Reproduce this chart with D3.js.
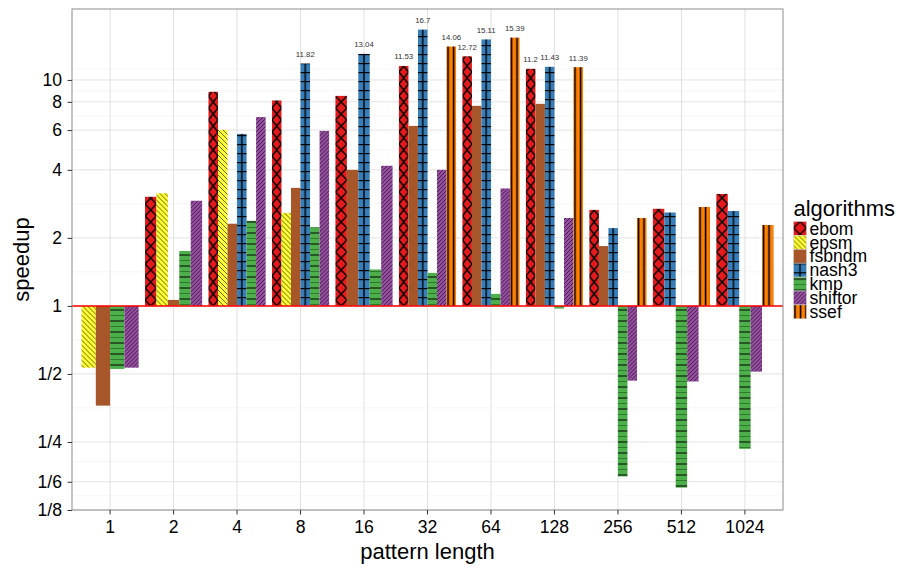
<!DOCTYPE html>
<html>
  <head>
    <meta charset="utf-8" />
    <script src="https://cdn.jsdelivr.net/npm/d3@7"></script>
    <style>
      body { margin: 0; background: #fff; }
      text { font-family: "Liberation Sans", Helvetica, Arial, sans-serif; }
    </style>
  </head>
  <body>
    <script type="text/javascript">
      // data (speedup, log2 scale); null = no bar
      const lengths = ["1", "2", "4", "8", "16", "32", "64", "128", "256", "512", "1024"];
      const algorithms = ["ebom", "epsm", "fsbndm", "nash3", "kmp", "shiftor", "ssef"];
      const ebom = [null, 3.04, 8.86, 8.11, 8.5, 11.53, 12.72, 11.2, 2.66, 2.69, 3.13];
      const epsm = [0.533, 3.15, 6.01, 2.58, null, null, null, null, null, null, null];
      const fsbndm = [0.362, 1.063, 2.31, 3.33, 4.0, 6.26, 7.68, 7.84, 1.84, null, null];
      const nash3 = [null, null, 5.77, 11.82, 13.04, 16.7, 15.11, 11.43, 2.21, 2.59, 2.63];
      const kmp = [0.526, 1.75, 2.38, 2.23, 1.45, 1.4, 1.13, 0.973, 0.176, 0.157, 0.233];
      const shiftor = [0.533, 2.92, 6.85, 5.95, 4.17, 4.0, 3.31, 2.45, 0.467, 0.463, 0.512];
      const ssef = [null, null, null, null, null, 14.06, 15.39, 11.39, 2.45, 2.74, 2.28];
      const yTicks = [1 / 8, 1 / 6, 1 / 4, 1 / 2, 1, 2, 4, 6, 8, 10];
      const yTickLabels = ["1/8", "1/6", "1/4", "1/2", "1", "2", "4", "6", "8", "10"];
      const labelOver = 11; // values above this get a number on top

      const series = { ebom, epsm, fsbndm, nash3, kmp, shiftor, ssef };
      const colors = {
        ebom: "#E41A1C", epsm: "#FFFF33", fsbndm: "#A65628", nash3: "#377EB8",
        kmp: "#4DAF4A", shiftor: "#984EA3", ssef: "#FF7F00"
      };

      const W = 901, H = 567;
      const panel = { left: 72, right: 783, top: 9, bottom: 510 };

      const svg = d3.select("body").append("svg")
        .attr("width", W).attr("height", H);
      const defs = svg.append("defs");

      const x = d3.scaleBand()
        .domain(lengths)
        .range([panel.left, panel.right])
        .paddingInner(0)
        .paddingOuter(0.1);

      const y = d3.scaleLog().base(2)
        .domain([1 / 8, 20.6])
        .range([panel.bottom, panel.top]);

      // pattern fills, some depend on bar width
      const made = {};
      function pattern(alg, w, key) {
        const id = "p-" + alg + "-" + String(w).replace(".", "_") + (key ? "k" : "");
        if (made[id]) return "url(#" + id + ")";
        made[id] = true;
        let pw = 10, ph = 10;
        if (alg == "ebom") { pw = w; ph = key ? w : 12; }
        if (alg == "epsm") { pw = 5; ph = 5; }
        if (alg == "nash3") { pw = w; ph = 9; }
        if (alg == "kmp") { pw = 10; ph = 11; }
        if (alg == "shiftor") { pw = 4; ph = 4; }
        if (alg == "ssef") { pw = 5.5; ph = 10; }
        const p = defs.append("pattern")
          .attr("id", id)
          .attr("patternUnits", "userSpaceOnUse")
          .attr("width", pw).attr("height", ph);
        p.append("rect").attr("width", pw).attr("height", ph).attr("fill", colors[alg]);
        const line = function (d, sw, col) {
          p.append("path").attr("d", d).attr("stroke", col || "#000")
            .attr("stroke-width", sw).attr("fill", "none");
        };
        if (alg == "ebom") {
          if (key) line("M" + pw / 2 + ",0L" + pw + "," + ph / 2 + "L" + pw / 2 + "," + ph + "L0," + ph / 2 + "Z", 1.3);
          else line("M0,0L" + pw + "," + ph + "M" + pw + ",0L0," + ph, 1.4);
        }
        if (alg == "epsm") line("M0,0L5,5M-1,4L1,6M4,-1L6,1", 0.6);
        if (alg == "nash3") {
          line("M0,0.6H" + pw, 1.2);
          line("M" + pw / 2 + ",0V" + ph, 1.4);
        }
        if (alg == "kmp") {
          line("M0,2H10", 1);
          line("M0,7.5H10", 1, "#2e7a2c");
        }
        if (alg == "shiftor") line("M0,4L4,0M-1,1L1,-1M3,5L5,3", 0.6);
        if (alg == "ssef") line("M1.5,0V10", 1.6);
        return "url(#" + id + ")";
      }

      // grid
      const grid = svg.append("g");
      const minor = [];
      for (let i = 0; i < yTicks.length - 1; i++) minor.push(Math.sqrt(yTicks[i] * yTicks[i + 1]));
      minor.push(10 * Math.sqrt(10 / 8));
      grid.selectAll(".minor").data(minor).enter().append("line")
        .attr("x1", panel.left).attr("x2", panel.right)
        .attr("y1", function (d) { return y(d); }).attr("y2", function (d) { return y(d); })
        .attr("stroke", "#f2f2f2").attr("stroke-width", 0.8);
      grid.selectAll(".major").data(yTicks).enter().append("line")
        .attr("x1", panel.left).attr("x2", panel.right)
        .attr("y1", function (d) { return y(d); }).attr("y2", function (d) { return y(d); })
        .attr("stroke", "#e3e3e3").attr("stroke-width", 1);
      grid.selectAll(".vert").data(lengths).enter().append("line")
        .attr("x1", function (d) { return x(d) + x.bandwidth() / 2; })
        .attr("x2", function (d) { return x(d) + x.bandwidth() / 2; })
        .attr("y1", panel.top).attr("y2", panel.bottom)
        .attr("stroke", "#e0e0e0").attr("stroke-width", 1);

      // dodge bars within each length, only among present algorithms
      const bars = [];
      lengths.forEach(function (len, i) {
        const present = algorithms.filter(function (a) { return series[a][i] != null; });
        const dodge = x.bandwidth() * 0.9;
        const bw = dodge / present.length;
        const x0 = x(len) + x.bandwidth() / 2 - dodge / 2;
        present.forEach(function (a, j) {
          bars.push({ alg: a, value: series[a][i], x: x0 + j * bw, w: bw });
        });
      });

      const barG = svg.append("g").selectAll("g").data(bars).enter().append("g")
        .attr("transform", function (d) { return "translate(" + d.x + ",0)"; });
      barG.append("rect")
        .attr("x", 0)
        .attr("width", function (d) { return d.w; })
        .attr("y", function (d) { return Math.min(y(d.value), y(1)); })
        .attr("height", function (d) { return Math.abs(y(d.value) - y(1)); })
        .attr("fill", function (d) { return pattern(d.alg, +d.w.toFixed(2)); });

      // reference line at speedup 1
      svg.append("line")
        .attr("x1", panel.left).attr("x2", panel.right)
        .attr("y1", y(1)).attr("y2", y(1))
        .attr("stroke", "#ff0000").attr("stroke-width", 1.5);

      // value labels on the big bars
      svg.append("g").selectAll("text")
        .data(bars.filter(function (d) { return d.value > labelOver; }))
        .enter().append("text")
        .attr("x", function (d) { return d.x + d.w / 2; })
        .attr("y", function (d) { return y(d.value) - 6.5; })
        .attr("text-anchor", "middle")
        .attr("font-size", "7.8px")
        .attr("fill", "#333")
        .text(function (d) { return String(d.value); });

      // panel border
      svg.append("rect")
        .attr("x", panel.left).attr("y", panel.top)
        .attr("width", panel.right - panel.left).attr("height", panel.bottom - panel.top)
        .attr("fill", "none").attr("stroke", "#8c8c8c").attr("stroke-width", 1);

      // axes
      const xAxis = svg.append("g")
        .attr("transform", "translate(0," + panel.bottom + ")")
        .call(d3.axisBottom(x).tickSize(4.5).tickPadding(6));
      const yAxis = svg.append("g")
        .attr("transform", "translate(" + panel.left + ",0)")
        .call(d3.axisLeft(y).tickValues(yTicks).tickSize(4.5).tickPadding(5.5)
          .tickFormat(function (d, i) { return yTickLabels[i]; }));
      [xAxis, yAxis].forEach(function (a) {
        a.select(".domain").remove();
        a.selectAll("line").attr("stroke", "#333");
        a.selectAll("text").attr("font-size", "17.6px").attr("fill", "#000")
          .attr("font-family", "'Liberation Sans', Helvetica, Arial, sans-serif");
      });

      svg.append("text")
        .attr("x", (panel.left + panel.right) / 2).attr("y", 559)
        .attr("text-anchor", "middle").attr("font-size", "22px")
        .text("pattern length");
      svg.append("text")
        .attr("transform", "translate(28.5," + (panel.top + panel.bottom) / 2 + ") rotate(-90)")
        .attr("text-anchor", "middle").attr("font-size", "22px")
        .text("speedup");

      // legend (tight rows, as in the original)
      const legend = svg.append("g").attr("transform", "translate(793.5,0)");
      legend.append("text").attr("x", 0).attr("y", 215.7)
        .attr("font-size", "22px").text("algorithms");
      const keyH = 13.9, keyTop = 221.5;
      const item = legend.selectAll(".item").data(algorithms).enter().append("g")
        .attr("transform", function (d, i) { return "translate(0," + (keyTop + i * keyH) + ")"; });
      item.append("rect")
        .attr("width", 13).attr("height", keyH)
        .attr("fill", function (d) { return pattern(d, 13, true); })
        .attr("stroke", "#d9d9d9").attr("stroke-width", 0.5);
      item.append("text")
        .attr("x", 16).attr("y", keyH / 2).attr("dy", "0.35em")
        .attr("font-size", "17.6px")
        .text(function (d) { return d; });
    </script>
  </body>
</html>
